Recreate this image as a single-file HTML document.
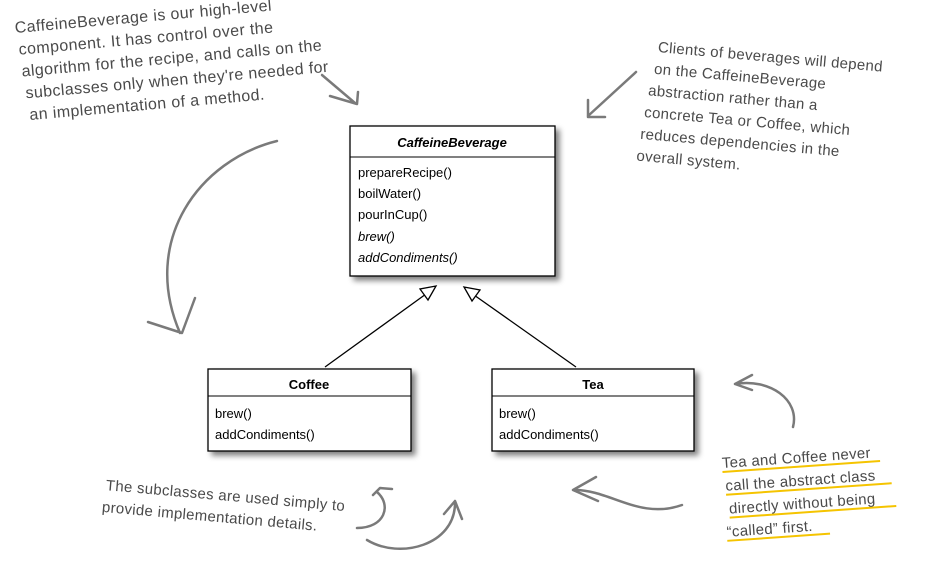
<!DOCTYPE html>
<html><head><meta charset="utf-8"><style>
body{margin:0;background:#fff;width:948px;height:581px;overflow:hidden}
.h{font-family:"Liberation Sans",sans-serif;font-size:15px;fill:#4a4a4a;letter-spacing:0.3px}
.big{font-size:16px;letter-spacing:0.4px}
.u{font-family:"Liberation Sans",sans-serif;font-size:13px;fill:#000}
.a{fill:none;stroke:#7a7a7a;stroke-width:2.5;stroke-linecap:round;stroke-linejoin:round}
</style></head><body>
<svg width="948" height="581" viewBox="0 0 948 581" xmlns="http://www.w3.org/2000/svg">
<defs><filter id="sh" x="-10%" y="-10%" width="130%" height="130%"><feGaussianBlur in="SourceAlpha" stdDeviation="3"/><feOffset dx="4" dy="4"/><feComponentTransfer><feFuncA type="linear" slope="0.5"/></feComponentTransfer><feMerge><feMergeNode/><feMergeNode in="SourceGraphic"/></feMerge></filter></defs>

<g filter="url(#sh)">
<rect x="350" y="126" width="205" height="150" fill="#fff" stroke="#000" stroke-width="1.3"/>
<rect x="208" y="369" width="203" height="82" fill="#fff" stroke="#000" stroke-width="1.3"/>
<rect x="492" y="369" width="202" height="82" fill="#fff" stroke="#000" stroke-width="1.3"/>
</g>
<line x1="350" y1="157" x2="555" y2="157" stroke="#000"/>
<line x1="208" y1="396" x2="411" y2="396" stroke="#000"/>
<line x1="492" y1="396" x2="694" y2="396" stroke="#000"/>
<text x="452" y="147" text-anchor="middle" class="u" font-weight="bold" font-style="italic">CaffeineBeverage</text>
<text x="358" y="177" class="u">prepareRecipe()</text>
<text x="358" y="198" class="u">boilWater()</text>
<text x="358" y="219" class="u">pourInCup()</text>
<text x="358" y="241" class="u" font-style="italic">brew()</text>
<text x="358" y="262" class="u" font-style="italic">addCondiments()</text>
<text x="309" y="389" text-anchor="middle" class="u" font-weight="bold">Coffee</text>
<text x="215" y="418" class="u">brew()</text>
<text x="215" y="439" class="u">addCondiments()</text>
<text x="593" y="389" text-anchor="middle" class="u" font-weight="bold">Tea</text>
<text x="499" y="418" class="u">brew()</text>
<text x="499" y="439" class="u">addCondiments()</text>

<line x1="325" y1="367" x2="426" y2="294" stroke="#000" stroke-width="1.3"/>
<polygon points="436,286 420,289 428,300" fill="#fff" stroke="#000" stroke-width="1.3"/>
<line x1="576" y1="367" x2="474" y2="295" stroke="#000" stroke-width="1.3"/>
<polygon points="464,287 480,290 472,301" fill="#fff" stroke="#000" stroke-width="1.3"/>

<g transform="rotate(-5 15 30)">
<text x="15" y="33" class="h big">CaffeineBeverage is our high-level</text>
<text x="17" y="55" class="h big">component.  It has control over the</text>
<text x="18" y="77" class="h big">algorithm for the recipe, and calls on the</text>
<text x="20" y="99" class="h big">subclasses only when they're needed for</text>
<text x="22" y="121" class="h big">an implementation of a method.</text>
</g>
<g transform="rotate(5 658 48)">
<text x="658" y="52" class="h">Clients of beverages will depend</text>
<text x="656" y="74" class="h">on the CaffeineBeverage</text>
<text x="652" y="96" class="h">abstraction rather than a</text>
<text x="650" y="118" class="h">concrete Tea or Coffee, which</text>
<text x="648" y="140" class="h">reduces dependencies in the</text>
<text x="646" y="162" class="h">overall system.</text>
</g>
<g transform="rotate(5 105 485)">
<text x="106" y="490" class="h">The subclasses are used simply to</text>
<text x="104" y="512" class="h">provide implementation details.</text>
</g>
<g transform="rotate(-4 722 465)">
<line x1="722" y1="472" x2="880" y2="472" stroke="#f5c400" stroke-width="2"/>
<line x1="724" y1="495" x2="890" y2="495" stroke="#f5c400" stroke-width="2"/>
<line x1="726" y1="518" x2="893" y2="518" stroke="#f5c400" stroke-width="2"/>
<line x1="722" y1="541" x2="825" y2="541" stroke="#f5c400" stroke-width="2"/>
<text x="722" y="468" class="h">Tea and Coffee never</text>
<text x="724" y="491" class="h">call the abstract class</text>
<text x="726" y="514" class="h">directly without being</text>
<text x="722" y="537" class="h">“called” first.</text>
</g>

<path class="a" d="M322,75 L355,103 M330,96 L357,104 L358,92"/>
<path class="a" d="M277,141 C200,160 140,240 180,333 M148,322 L182,333 L195,298"/>
<path class="a" d="M636,72 L588,116 M588,100 L588,117 L605,117"/>
<path class="a" d="M793,427 C800,400 770,378 735,384 M752,375 L735,384 L752,390"/>
<path class="a" d="M682,505 C640,520 610,490 575,490 M596,477 L573,490 L598,501"/>
<path class="a" d="M357,528 C385,528 392,505 377,492 M373,495 L380,488 L392,489"/>
<path class="a" d="M367,540 C400,560 455,545 455,503 M444,514 L455,501 L462,519"/>
</svg>
</body></html>
